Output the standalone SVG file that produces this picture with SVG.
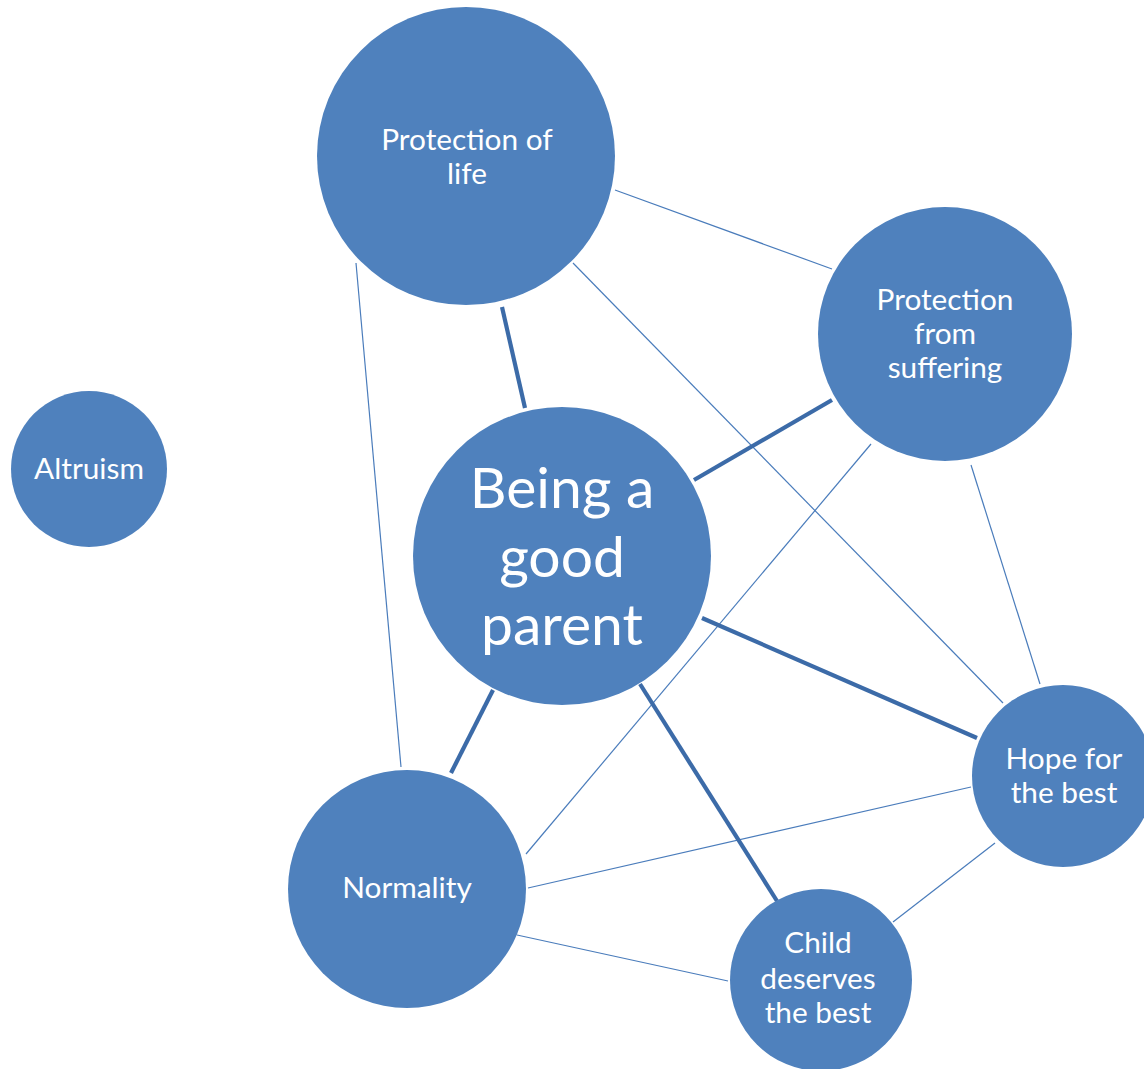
<svg xmlns="http://www.w3.org/2000/svg" width="1144" height="1069" viewBox="0 0 1144 1069">
  <style>
    .node { fill: #4F81BD; }
    .label { font-family: Lato, "Open Sans", "Liberation Sans", sans-serif; fill: #FFFFFF; text-anchor: middle; font-size: 29.8px; }
    .big { font-size: 57px; }
    .thin { stroke: #4A7CBB; stroke-width: 1.2; fill: none; }
    .thick { stroke: #3C6BA8; stroke-width: 4.2; fill: none; }
  </style>
  <rect width="1144" height="1069" fill="#FFFFFF"/>

  <!-- connectors -->
  <g id="connectors">
    <line class="thin" x1="615" y1="190" x2="832" y2="269"/>
    <line class="thin" x1="573" y1="263" x2="1003" y2="703"/>
    <line class="thin" x1="356" y1="263" x2="401" y2="767"/>
    <line class="thin" x1="871" y1="444" x2="526" y2="854"/>
    <line class="thin" x1="971" y1="465" x2="1040" y2="684"/>
    <line class="thin" x1="528" y1="888" x2="971" y2="787"/>
    <line class="thin" x1="517" y1="935" x2="728" y2="981"/>
    <line class="thin" x1="893" y1="922" x2="995" y2="843"/>
    <line class="thick" x1="502" y1="307" x2="525" y2="408"/>
    <line class="thick" x1="694" y1="480" x2="832" y2="400"/>
    <line class="thick" x1="702" y1="618" x2="977" y2="738"/>
    <line class="thick" x1="493" y1="690" x2="451" y2="773"/>
    <line class="thick" x1="640" y1="684" x2="777" y2="901"/>
  </g>

  <g id="protection-of-life">
    <circle class="node" cx="466" cy="156" r="149"/>
    <text class="label" x="467" y="150">Protection of</text>
    <text class="label" x="467" y="184">life</text>
  </g>

  <g id="protection-from-suffering">
    <circle class="node" cx="945" cy="334" r="127"/>
    <text class="label" x="945" y="310">Protection</text>
    <text class="label" x="945" y="344">from</text>
    <text class="label" x="945" y="378">suffering</text>
  </g>

  <g id="altruism">
    <circle class="node" cx="89" cy="469" r="78"/>
    <text class="label" x="89" y="479">Altruism</text>
  </g>

  <g id="being-a-good-parent">
    <circle class="node" cx="562" cy="556" r="149"/>
    <text class="label big" x="562" y="508">Being a</text>
    <text class="label big" x="562" y="577">good</text>
    <text class="label big" x="562" y="645">parent</text>
  </g>

  <g id="normality">
    <circle class="node" cx="407" cy="889" r="119"/>
    <text class="label" x="407" y="898">Normality</text>
  </g>

  <g id="hope-for-the-best">
    <circle class="node" cx="1063" cy="776" r="91"/>
    <text class="label" x="1064" y="769">Hope for</text>
    <text class="label" x="1064" y="803">the best</text>
  </g>

  <g id="child-deserves-the-best">
    <circle class="node" cx="821" cy="980" r="91"/>
    <text class="label" x="818" y="953">Child</text>
    <text class="label" x="818" y="989">deserves</text>
    <text class="label" x="818" y="1023">the best</text>
  </g>
</svg>
